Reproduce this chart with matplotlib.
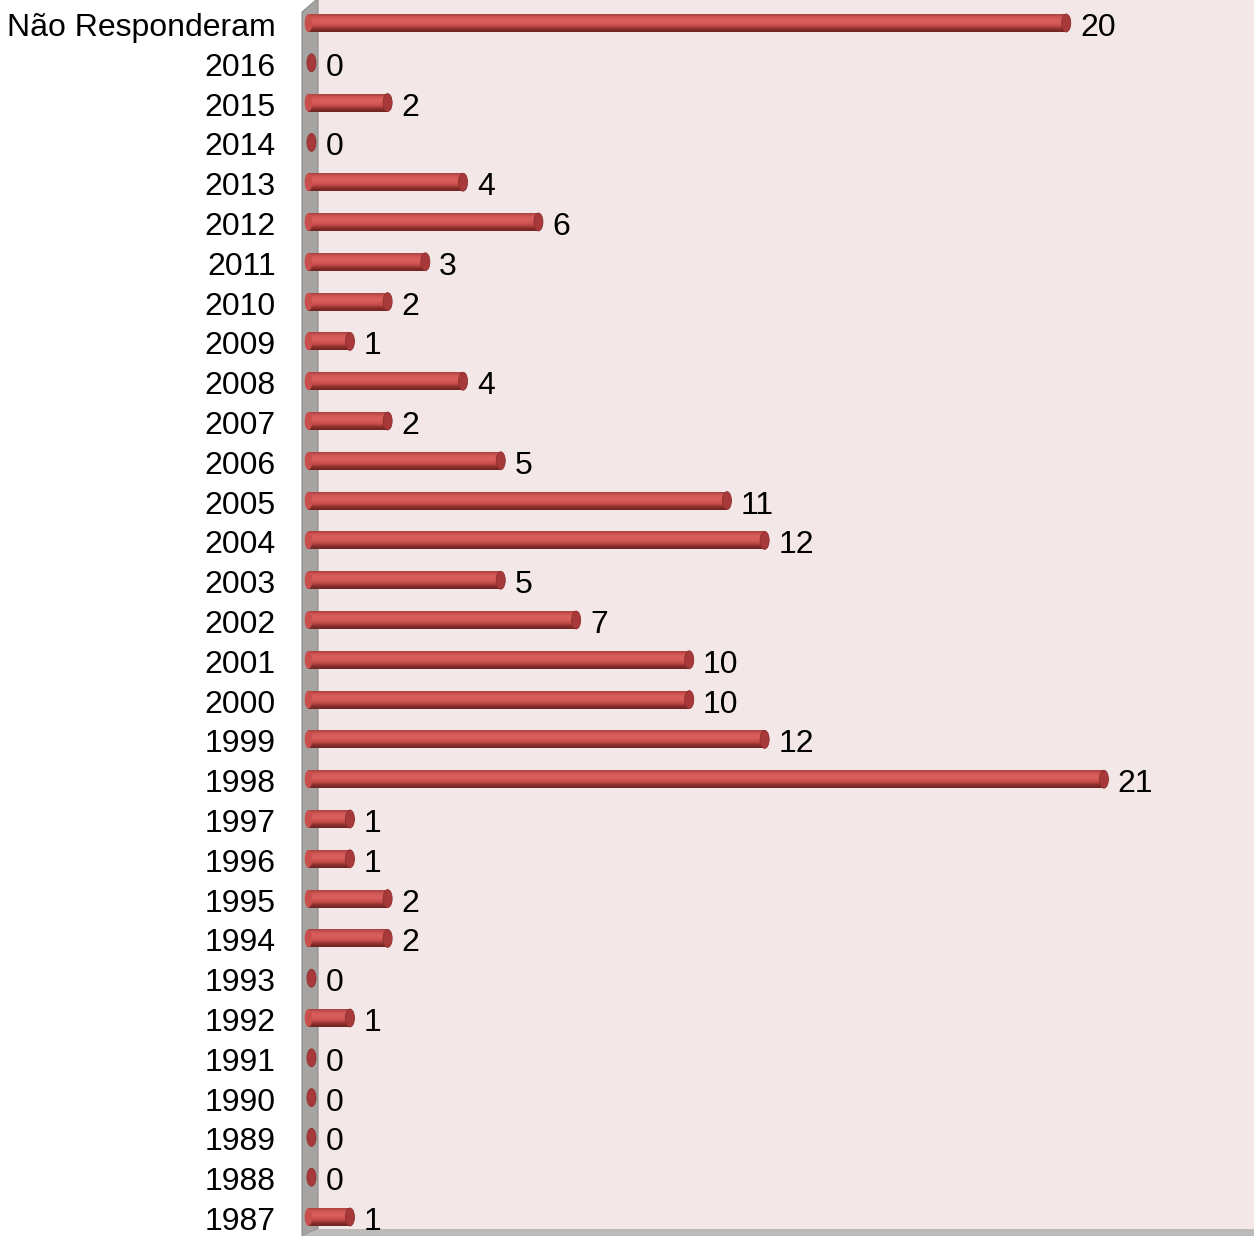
import matplotlib
matplotlib.use("Agg")
import matplotlib.pyplot as plt
import matplotlib.transforms as mtransforms
import numpy as np
from matplotlib.patches import Ellipse, Polygon
from matplotlib.colors import LinearSegmentedColormap

categories = ["Não Responderam", "2016", "2015", "2014", "2013", "2012", "2011", "2010",
              "2009", "2008", "2007", "2006", "2005", "2004", "2003", "2002", "2001",
              "2000", "1999", "1998", "1997", "1996", "1995", "1994", "1993", "1992",
              "1991", "1990", "1989", "1988", "1987"]
values = [20, 0, 2, 0, 4, 6, 3, 2, 1, 4, 2, 5, 11, 12, 5, 7, 10, 10, 12, 21, 1, 1, 2, 2,
          0, 1, 0, 0, 0, 0, 1]

W, H = 1254, 1236
fig = plt.figure(figsize=(W / 100, H / 100), dpi=100)
fig.patch.set_facecolor("white")

def fx(px):
    return px / W

def fy(py):
    return 1 - py / H

# back wall (pink)
fig.patches.append(Polygon([(fx(316), fy(0)), (fx(W), fy(0)), (fx(W), fy(1229)), (fx(316), fy(1229))],
                           closed=True, transform=fig.transFigure, facecolor="#F4E7E8",
                           edgecolor="none", zorder=-5))
# side wall (gray)
fig.patches.append(Polygon([(fx(302), fy(12)), (fx(316), fy(0)), (fx(318), fy(0)), (fx(318), fy(1229)),
                            (fx(302), fy(1236))],
                           closed=True, transform=fig.transFigure, facecolor="#A6A3A3",
                           edgecolor="#8E8B8B", linewidth=0.8, zorder=-5))
# floor
fig.patches.append(Polygon([(fx(302), fy(1236)), (fx(318), fy(1229)), (fx(W), fy(1229)), (fx(W), fy(1236))],
                           closed=True, transform=fig.transFigure, facecolor="#BDBABA",
                           edgecolor="none", zorder=-5))

ax_left, ax_right = 300, W
ax = fig.add_axes([fx(ax_left), 1 - 1232 / H, (ax_right - ax_left) / W, 1232 / H])
ax.set_zorder(2)
ax.patch.set_alpha(0)
unit = 37.7
x0 = -(316 - ax_left) / unit
xlim = (x0, x0 + (ax_right - ax_left) / unit)
n = len(categories)
spacing = 39.8
ylim = ((1232 - 23) / spacing, -23 / spacing)
ax.set_xlim(*xlim)
ax.set_ylim(*ylim)

cmap = LinearSegmentedColormap.from_list(
    "cyl", ["#A8403E", "#CF5653", "#DA605C", "#D65B58", "#C24B48", "#8A2E2C", "#6E2422"])
grad = np.linspace(0, 1, 64).reshape(-1, 1)
bh = 0.45
start = -0.2
val_off = mtransforms.ScaledTranslation(0, -5 / 100, fig.dpi_scale_trans)
tick_off = mtransforms.ScaledTranslation(-24 / 100, -5 / 100, fig.dpi_scale_trans)
label_tr = mtransforms.blended_transform_factory(ax.transAxes, ax.transData) + tick_off
for i, v in enumerate(values):
    end = v - 0.1 if v > 0 else -0.12
    if v > 0:
        ax.imshow(grad, extent=[start, end, i + bh / 2, i - bh / 2], aspect="auto",
                  cmap=cmap, interpolation="bicubic", zorder=2, origin="upper")
        ax.add_patch(Ellipse((start, i), 0.2, bh, facecolor="#C84F4C", edgecolor="none", zorder=2))
    ax.add_patch(Ellipse((end, i), 0.24, bh, facecolor="#A8393A", edgecolor="#8E2F2D",
                         linewidth=0.6, zorder=3))
    ax.text(v + 10 / unit, i, str(v), va="center", ha="left", fontsize=23,
            fontfamily="Liberation Sans", color="black", zorder=4,
            transform=ax.transData + val_off)
    ax.text(0, i, categories[i], va="center", ha="right", fontsize=23,
            fontfamily="Liberation Sans", color="black", transform=label_tr, clip_on=False)

ax.set_xlim(*xlim)
ax.set_ylim(*ylim)
ax.set_yticks([])
ax.set_xticks([])
for s in ax.spines.values():
    s.set_visible(False)

fig.savefig("out.png", dpi=100)
